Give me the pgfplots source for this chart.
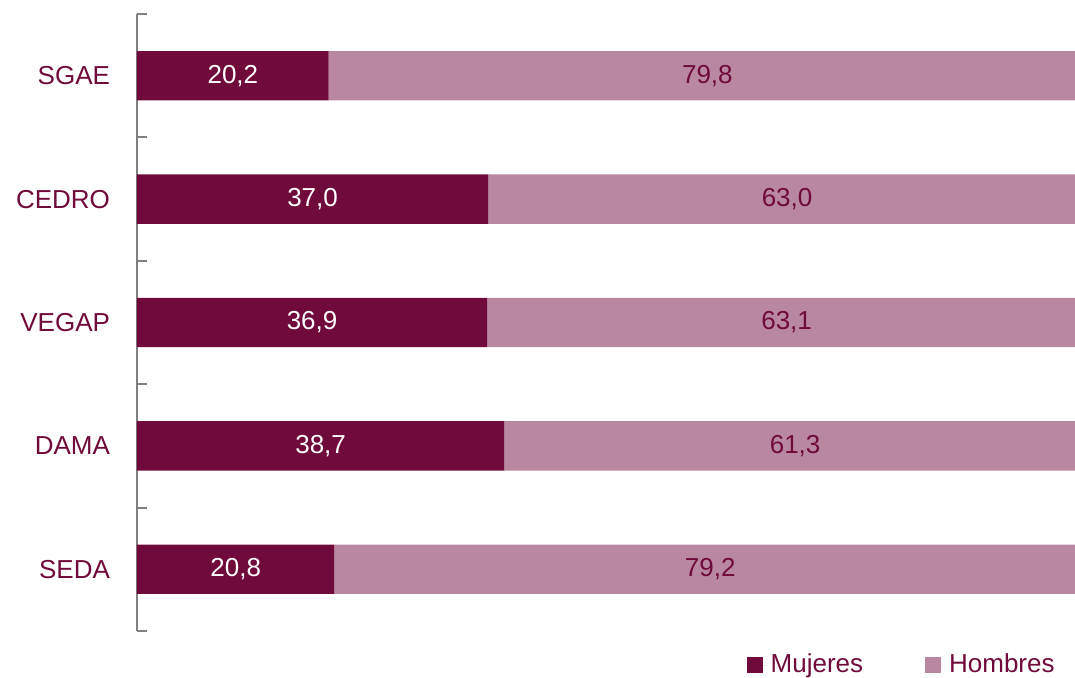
\documentclass[border=0pt]{standalone}
\usepackage{pgfplots}
\pgfplotsset{compat=1.18}
\usepackage{fontspec}
\setmainfont{Liberation Sans}
\definecolor{mujer}{RGB}{112,10,58}
\definecolor{hombre}{RGB}{185,135,160}
\definecolor{ejegris}{RGB}{128,128,128}
\begin{document}
\begin{tikzpicture}
\begin{axis}[
  at={(0,0)}, anchor=south west,
  scale only axis,
  width=474.5pt, height=308.5pt,
  xbar stacked,
  bar width=0.4,
  xmin=0, xmax=100,
  ymin=0.5, ymax=5.5,
  y dir=reverse,
  axis x line=none,
  axis y line*=left,
  y axis line style={draw=ejegris, line width=1pt},
  ytick={1,2,3,4,5},
  yticklabels={SGAE,CEDRO,VEGAP,DAMA,SEDA},
  major tick length=0pt,
  extra y ticks={0.5,1.5,2.5,3.5,4.5,5.5},
  extra y tick labels={},
  extra y tick style={major tick length=5pt, tick align=inside,
    tick style={draw=ejegris, line width=1pt}},
  yticklabel style={font=\fontsize{13}{15}\selectfont, text=mujer, xshift=-10pt},
  /pgf/number format/use comma,
  /pgf/number format/fixed,
  /pgf/number format/fixed zerofill,
  /pgf/number format/precision=1,
  /pgf/number format/assume math mode=true,
  point meta=explicit,
  nodes near coords,
  every node near coord/.append style={anchor=center,
    font=\fontsize{13}{15}\selectfont},
  legend columns=2,
  legend style={at={(rel axis cs:1,0)}, anchor=east, xshift=-10.5pt, yshift=-17pt,
    draw=none, fill=none, font=\fontsize{13}{15}\selectfont, text=mujer,
    /tikz/every even column/.append style={column sep=29pt}},
  legend image code/.code={\fill[#1] (0pt,-4pt) rectangle (8pt,4pt);
    \path (0pt,0pt) -- (10pt,0pt);},
]
\addplot[fill=mujer, draw=none, every node near coord/.append style={text=white}]
  coordinates {(20.2,1) [20.2] (37.0,2) [37.0] (36.9,3) [36.9] (38.7,4) [38.7] (20.8,5) [20.8]};
\addplot[fill=hombre, draw=none, every node near coord/.append style={text=mujer}]
  coordinates {(79.8,1) [79.8] (63.0,2) [63.0] (63.1,3) [63.1] (61.3,4) [61.3] (79.2,5) [79.2]};
\legend{Mujeres, Hombres}
\end{axis}
\pgfresetboundingbox
\path[use as bounding box] (-68.5pt,-23pt) rectangle (469pt,315.5pt);
\end{tikzpicture}
\end{document}
